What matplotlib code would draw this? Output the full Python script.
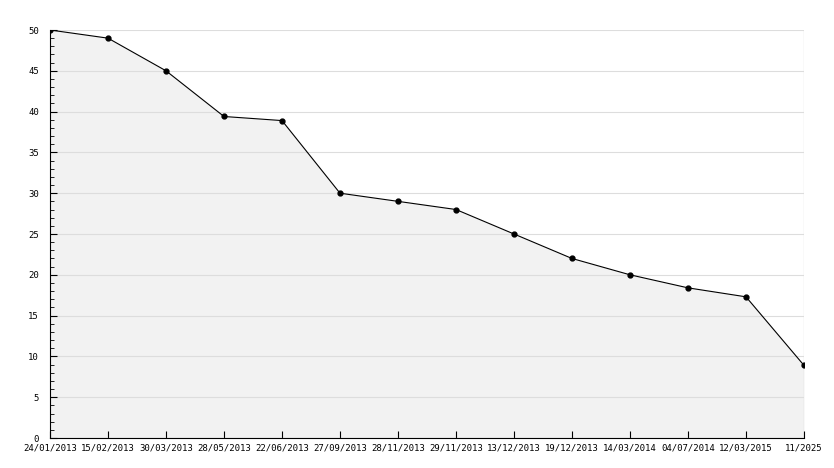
import matplotlib.pyplot as plt
from matplotlib.ticker import MultipleLocator

dates = ["24/01/2013", "15/02/2013", "30/03/2013", "28/05/2013", "22/06/2013",
         "27/09/2013", "28/11/2013", "29/11/2013", "13/12/2013", "19/12/2013",
         "14/03/2014", "04/07/2014", "12/03/2015", "11/2025"]
values = [50, 49, 45, 39.4, 38.9, 30, 29, 28, 25, 22, 20, 18.4, 17.3, 8.9]

x = list(range(len(values)))

fig = plt.figure(figsize=(8.34, 4.68), dpi=100)
ax = fig.add_axes([50/834, 30/468, 754/834, 408/468])

# fill below the axis zorder so ticks stay visible
ax.fill_between(x, values, 0, color="#f2f2f2", zorder=0.1, lw=0)
ax.plot(x, values, color="black", lw=0.8, marker="o", ms=3.5, zorder=3)

ax.set_xlim(0, len(values) - 1)
ax.set_ylim(0, 50)
ax.yaxis.set_major_locator(MultipleLocator(5))
ax.yaxis.set_minor_locator(MultipleLocator(1))
ax.set_xticks(x)
ax.set_xticklabels(dates, fontsize=6.5, family="DejaVu Sans Mono")
for lbl in ax.get_yticklabels():
    lbl.set_fontsize(6.5)
    lbl.set_family("DejaVu Sans Mono")
ax.tick_params(axis="x", direction="in", length=5, pad=4)
ax.tick_params(axis="y", which="major", direction="in", length=5, pad=8)
ax.tick_params(axis="y", which="minor", direction="in", length=3)
ax.grid(axis="y", color="#dddddd", lw=0.8)
ax.set_axisbelow(True)

for s in ["top", "right"]:
    ax.spines[s].set_visible(False)
ax.axvline(len(values) - 1, color="#999999", lw=0.8, zorder=0.2)

fig.savefig("out.png", dpi=100)
